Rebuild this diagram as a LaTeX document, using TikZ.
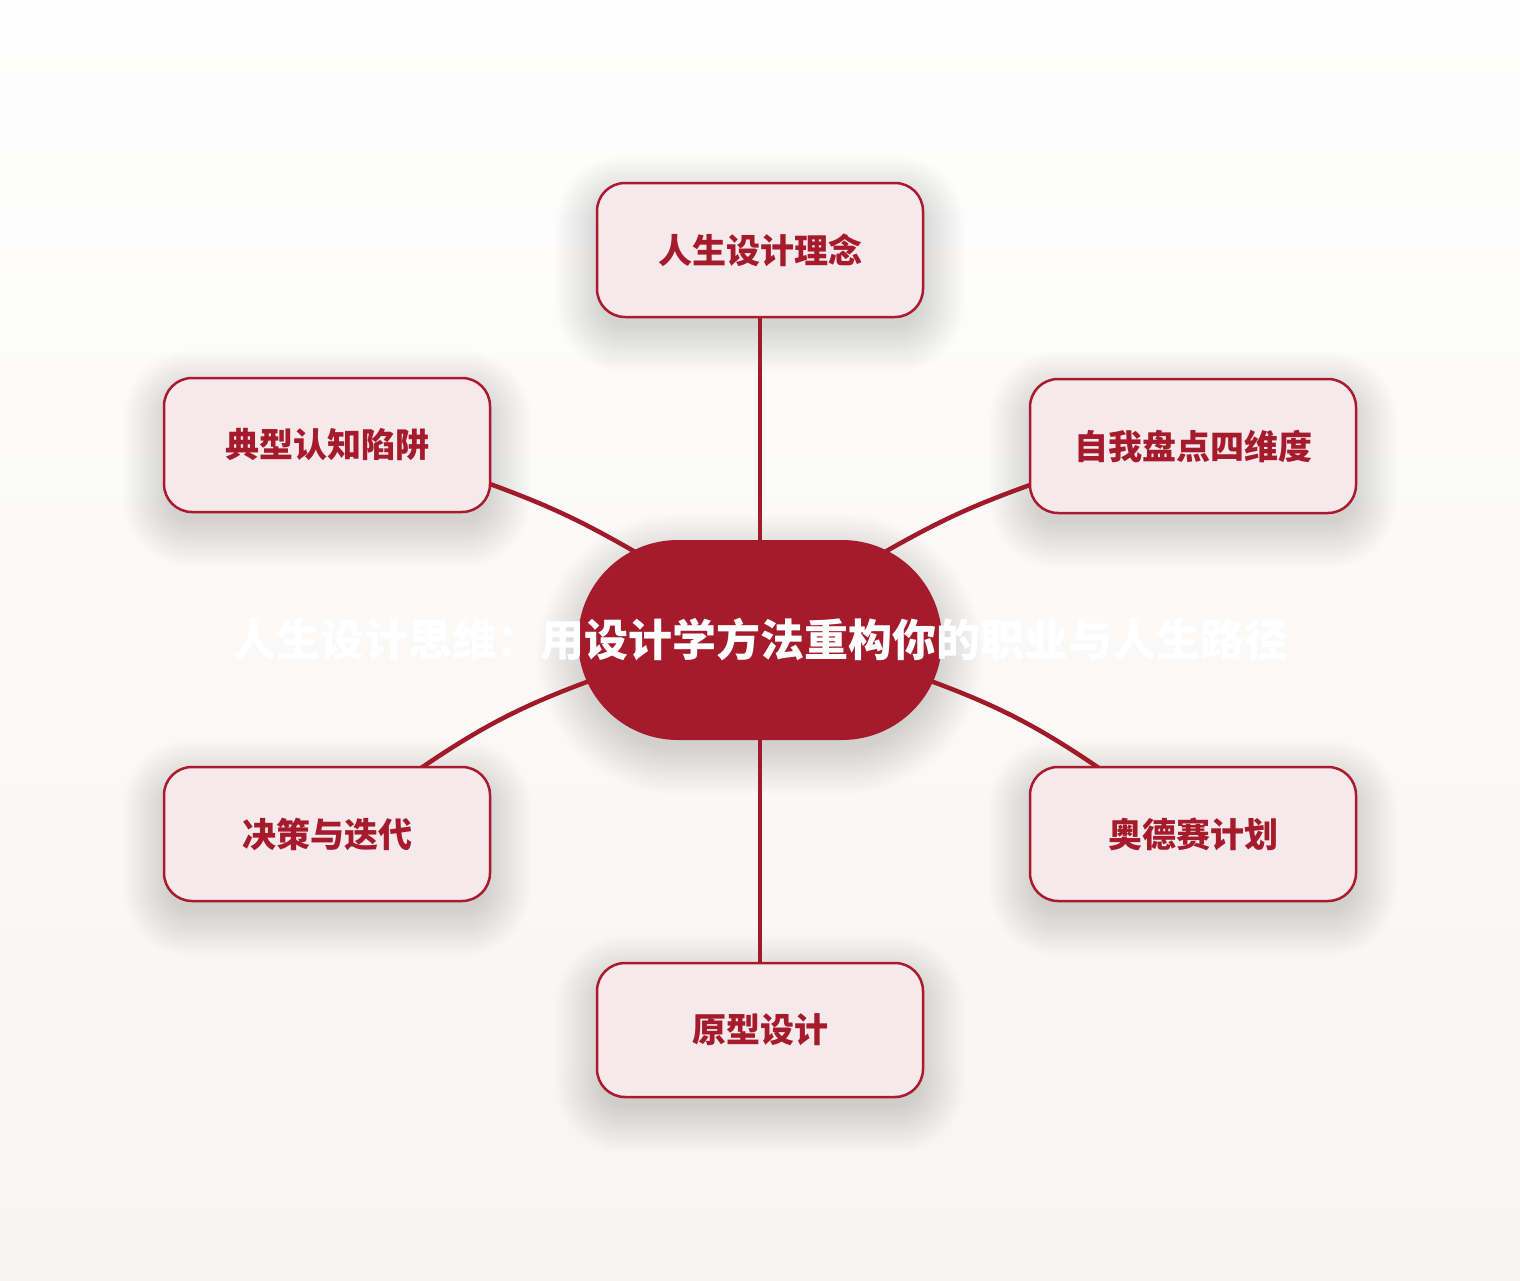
\documentclass[tikz,border=0pt]{standalone}
\usepackage{fontspec}
\newfontfamily\cjk{Noto Sans CJK SC}
\usetikzlibrary{calc}
\pgfdeclarelayer{bg}
\pgfdeclarelayer{lines}
\pgfsetlayers{bg,lines,main}
\definecolor{cfill}{HTML}{A51B2B}
\definecolor{nodefill}{HTML}{F5E9EC}
\definecolor{bordc}{HTML}{AB1A2C}
\definecolor{textc}{HTML}{A51B2B}
\definecolor{linec}{HTML}{A01A2A}
\definecolor{bgtop}{HTML}{FEFEFE}
\definecolor{bgbot}{HTML}{F7F5F1}
\newcommand\otxt[1]{\raisebox{-2pt}{#1}}
\begin{document}
\begin{tikzpicture}[x=1pt,y=-1pt,
  outer/.style={draw=bordc, line width=2.5pt, fill=nodefill, rounded corners=28pt,
    minimum width=326pt, minimum height=134pt, inner sep=0pt, text=textc,
    font=\cjk\bfseries\fontsize{34}{40}\selectfont},
  hub/.style={fill=cfill, rounded corners=99.9pt, minimum width=364pt, minimum height=200pt,
    inner sep=0pt, text=white, font=\cjk\bfseries\fontsize{44}{50}\selectfont},
  conn/.style={draw=linec, line width=4.5pt},
  shadlayer/.style={fill=black, opacity=0.0085}
]
\useasboundingbox (0,0) rectangle (1520,1280);
\node[hub] (c) at (760,640) {\makebox[0pt]{\raisebox{-3pt}{人生设计思维：用设计学方法重构你的职业与人生路径}}};
\node[outer] (top) at (760,250) {\otxt{人生设计理念}};
\node[outer] (ul) at (327,445) {\otxt{典型认知陷阱}};
\node[outer] (ur) at (1193,446) {\otxt{自我盘点四维度}};
\node[outer] (ll) at (327,834) {\otxt{决策与迭代}};
\node[outer] (lr) at (1193,834) {\otxt{奥德赛计划}};
\node[outer] (bot) at (760,1030) {\otxt{原型设计}};
\begin{pgfonlayer}{bg}
  \shade[top color=bgtop, bottom color=bgbot] (0,0) rectangle (1520,1280);
  \foreach \n in {top,ul,ur,ll,lr,bot}{
    \foreach \k in {0,...,19}{
      \pgfmathsetmacro\e{40-2.4*\k}
      \pgfmathsetmacro\r{28+\e}
      \fill[shadlayer, rounded corners=\r pt]
        ($(\n.north west)+(-\e,-\e+14)$) rectangle ($(\n.south east)+(\e,\e+14)$);
    }
  }
  \foreach \k in {0,...,19}{
    \pgfmathsetmacro\e{40-2.4*\k}
    \pgfmathsetmacro\r{99.9+\e}
    \fill[shadlayer, rounded corners=\r pt]
      ($(c.north west)+(-\e,-\e+14)$) rectangle ($(c.south east)+(\e,\e+14)$);
  }
\end{pgfonlayer}
\begin{pgfonlayer}{lines}
  \draw[conn] (top.center) -- (c.center);
  \draw[conn] (c.center) -- (bot.center);
  \draw[conn] ($(ul.east)+(-4,38)$) to[bend left=5] ($(c.center)+(-123,-87)$);
  \draw[conn] ($(ur.west)+(4,38)$) to[bend right=5] ($(c.center)+(123,-87)$);
  \draw[conn] ($(ll.north)+(93,3)$) to[bend left=7] ($(c.center)+(-168,40)$);
  \draw[conn] ($(lr.north)+(-93,3)$) to[bend right=7] ($(c.center)+(168,40)$);
\end{pgfonlayer}
\end{tikzpicture}
\end{document}
